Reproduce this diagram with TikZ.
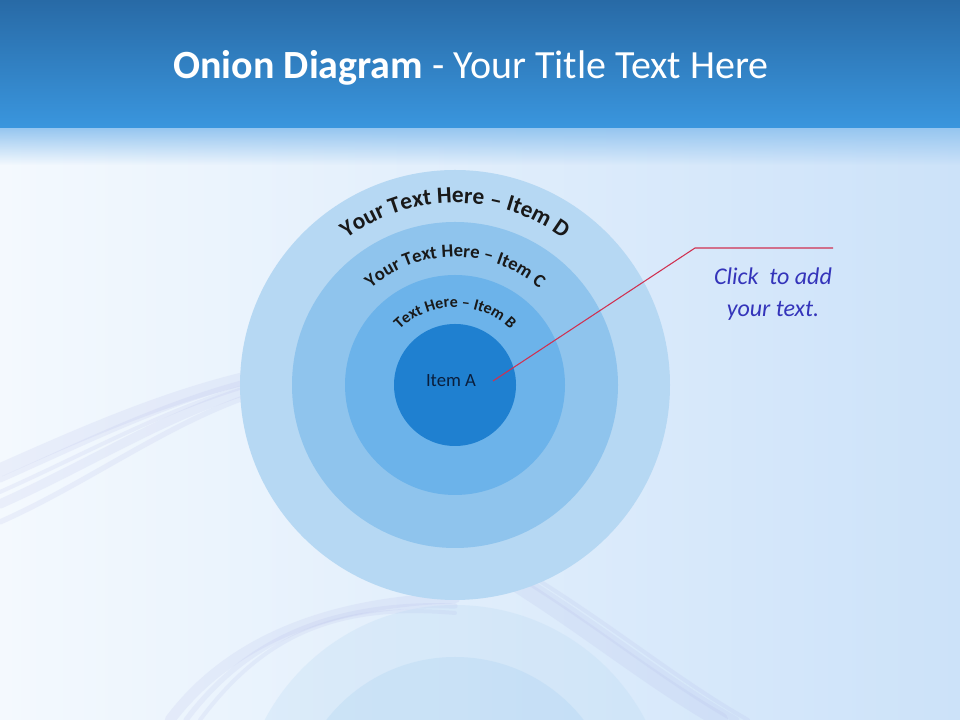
\documentclass[tikz,border=0pt]{standalone}
\usepackage{fontspec}
\setmainfont{Carlito}
\usetikzlibrary{decorations.text,fadings}
\definecolor{bgL}{RGB}{244,249,254}
\definecolor{bgM}{RGB}{232,243,253}
\definecolor{bgR}{RGB}{204,226,249}
\definecolor{barTop}{RGB}{40,106,166}
\definecolor{barBot}{RGB}{58,150,222}
\definecolor{glow}{RGB}{150,198,240}
\definecolor{ringD}{RGB}{182,216,243}
\definecolor{ringC}{RGB}{143,196,237}
\definecolor{ringB}{RGB}{108,179,234}
\definecolor{ringA}{RGB}{31,128,208}
\definecolor{swirl}{RGB}{176,182,232}
\definecolor{txtblue}{RGB}{52,52,186}
\definecolor{leader}{RGB}{208,48,80}
\definecolor{itemA}{RGB}{10,30,60}
\tikzset{
  ring/.style={circle, inner sep=0pt, draw=none},
  swirlline/.style={draw=swirl, line cap=round, opacity=0.16},
  arctext/.style={decorate, decoration={text along path, text align=center, text color=black!90}},
}
\begin{document}
\begin{tikzpicture}[x=0.75pt,y=0.75pt]
\useasboundingbox (0,0) rectangle (960,720);
% background
\shade[left color=bgL, middle color=bgM, right color=bgR] (0,0) rectangle (960,720);
% swirls
\foreach \d/\w in {0/10,10/4,22/3,34/7,52/4}{
  \draw[swirlline, line width=\w] (0,250-\d) .. controls (90,290-\d) and (170,325-\d/2) .. (260,345-\d/3);
}
\foreach \d/\w in {0/12,16/5,28/3}{
  \draw[swirlline, line width=\w] (510+\d,140) .. controls (590+\d,90) and (650+\d,40) .. (720+\d,0);
}
\foreach \d/\w in {0/8,16/4,30/3}{
  \draw[swirlline, line width=\w] (170+\d,0) .. controls (230+\d,80) and (330,118) .. (455,122-\d/2);
}
% reflection
\node[ring, minimum size=322.5pt, fill=ringD, opacity=0.25] (refD) at (455,-100) {};
\node[ring, minimum size=244.5pt, fill=ringC, opacity=0.18] (refC) at (455,-100) {};
% title bar
\shade[top color=barTop, bottom color=barBot] (0,592) rectangle (960,720);
\fill[glow, path fading=south] (0,555) rectangle (960,592);
\node[text=white, font=\fontsize{30}{36}\selectfont] (title) at (471,652) {\textbf{Onion Diagram} - Your Title Text Here};
% onion
\node[ring, minimum size=322.5pt, fill=ringD] (d) at (455,335) {};
\node[ring, minimum size=244.5pt, fill=ringC] (c) at (455,335) {};
\node[ring, minimum size=165pt, fill=ringB] (b) at (455,335) {};
\node[ring, minimum size=91.5pt, fill=ringA] (a) at (455,335) {};
\path[arctext, decoration={text={|\fontsize{17.5}{20}\selectfont\bfseries|Your Text Here – Item D}}]
  (273,335) arc[start angle=180, end angle=0, radius=182];
\path[arctext, decoration={text={|\fontsize{14}{16}\selectfont\bfseries|Your Text Here – Item C}}]
  (327,335) arc[start angle=180, end angle=0, radius=128];
\path[arctext, decoration={text={|\fontsize{12}{14}\selectfont\bfseries|Text Here – Item B}}]
  (377,335) arc[start angle=180, end angle=0, radius=78];
\node[text=itemA, font=\fontsize{14}{16}\selectfont] (alabel) at (451,339) {Item A};
% leader
\coordinate (p0) at (493,339);
\coordinate (p1) at (695,472);
\coordinate (p2) at (833,472);
\draw[leader, line width=0.8pt] (p0) -- (p1) -- (p2);
\node[align=center, text=txtblue, font=\fontsize{18}{24}\selectfont\itshape] (note) at (773,426) {Click\ \ to add\\your text.};
\end{tikzpicture}
\end{document}
